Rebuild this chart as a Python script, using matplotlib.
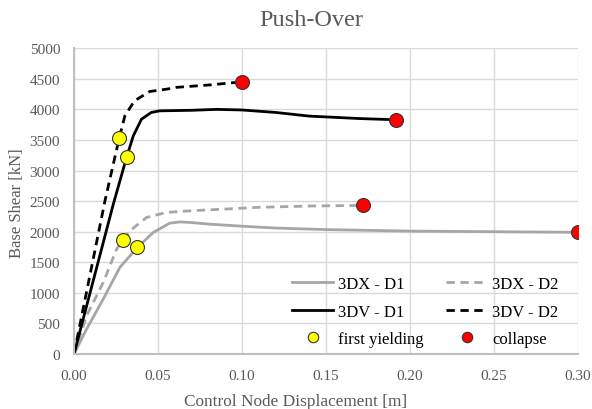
import matplotlib.pyplot as plt

plt.rcParams['font.family'] = ['Liberation Serif', 'DejaVu Serif']

# pushover curves: displacement [m], base shear [kN]
dx_d1_x = [0.0, 0.0075, 0.0174, 0.0274, 0.0373, 0.0472, 0.057, 0.063, 0.070, 0.080, 0.100, 0.120, 0.150, 0.200, 0.250, 0.300]
dx_d1_y = [0, 408, 899, 1420, 1730, 1988, 2140, 2160, 2150, 2125, 2090, 2060, 2035, 2010, 2000, 1990]

dx_d2_x = [0.0, 0.0075, 0.0174, 0.0254, 0.029, 0.0333, 0.0432, 0.055, 0.071, 0.090, 0.111, 0.140, 0.172]
dx_d2_y = [0, 626, 1171, 1716, 1860, 2015, 2233, 2315, 2345, 2370, 2400, 2420, 2430]

dv_d1_x = [0.0, 0.0234, 0.0313, 0.0353, 0.0402, 0.046, 0.051, 0.070, 0.085, 0.100, 0.120, 0.140, 0.170, 0.192]
dv_d1_y = [0, 2450, 3214, 3567, 3840, 3949, 3976, 3985, 4000, 3990, 3950, 3890, 3850, 3830]

dv_d2_x = [0.0, 0.0184, 0.027, 0.0303, 0.036, 0.045, 0.055, 0.061, 0.081, 0.100]
dv_d2_y = [0, 2500, 3540, 3894, 4139, 4292, 4330, 4360, 4400, 4450]

yield_x = [0.027, 0.0313, 0.029, 0.0373]
yield_y = [3540, 3214, 1860, 1743]

collapse_x = [0.100, 0.192, 0.172, 0.300]
collapse_y = [4450, 3830, 2430, 1990]

gray = '#a6a6a6'
txt = '#595959'

fig = plt.figure(figsize=(5.92, 4.10), dpi=100)
ax = fig.add_axes([0.125, 0.134, 0.851, 0.746])

l1, = ax.plot(dx_d1_x, dx_d1_y, color=gray, lw=2.0, label='3DX - D1')
l2, = ax.plot(dx_d2_x, dx_d2_y, color=gray, lw=2.0, ls=(0, (3, 2)), label='3DX - D2')
l3, = ax.plot(dv_d1_x, dv_d1_y, color='black', lw=2.0, label='3DV - D1')
l4, = ax.plot(dv_d2_x, dv_d2_y, color='black', lw=2.0, ls=(0, (3, 2)), label='3DV - D2')
m1, = ax.plot(yield_x, yield_y, 'o', ms=10, mfc='yellow', mec='#333333', mew=0.8,
              ls='none', label='first yielding', zorder=5)
m2, = ax.plot(collapse_x, collapse_y, 'o', ms=10, mfc='red', mec='#333333', mew=0.8,
              ls='none', label='collapse', zorder=5)

ax.set_xlim(0, 0.30)
ax.set_ylim(0, 5000)
ax.set_xticks([0.0, 0.05, 0.10, 0.15, 0.20, 0.25, 0.30])
ax.set_xticklabels(['0.00', '0.05', '0.10', '0.15', '0.20', '0.25', '0.30'])
ax.set_yticks(range(0, 5001, 500))
ax.grid(True, color='#d9d9d9', lw=1.0)
ax.set_axisbelow(True)
for s in ['top', 'right']:
    ax.spines[s].set_visible(False)
for s in ['left', 'bottom']:
    ax.spines[s].set_color('#bfbfbf')
    ax.spines[s].set_linewidth(1.5)
ax.tick_params(axis='x', length=0, labelsize=11, colors=txt, pad=11)
ax.tick_params(axis='y', length=0, labelsize=11, colors=txt, pad=10)

# titles placed in figure coordinates
fig.text(311 / 592, 1 - 21 / 410, 'Push-Over', fontsize=17.5, color=txt,
         ha='center', va='center')
fig.text(296 / 592, 1 - 402 / 410, 'Control Node Displacement [m]', fontsize=12.4,
         color=txt, ha='center', va='center')
fig.text(17 / 592, 1 - 203 / 410, 'Base Shear [kN]', fontsize=12, color=txt,
         ha='center', va='center', rotation=90)

# column-first fill: left column D1 + yielding, right column D2 + collapse
leg = ax.legend(handles=[l1, l3, m1, l2, l4, m2], ncol=2, loc='lower left',
                bbox_to_anchor=((284 - 74) / 504, -0.004), frameon=False, fontsize=12,
                borderpad=0, handlelength=2.45, handletextpad=0.3, columnspacing=1.35,
                labelspacing=0.68, markerscale=0.75)
for t in leg.get_texts():
    t.set_color('black')

fig.savefig('out.png', dpi=100)
